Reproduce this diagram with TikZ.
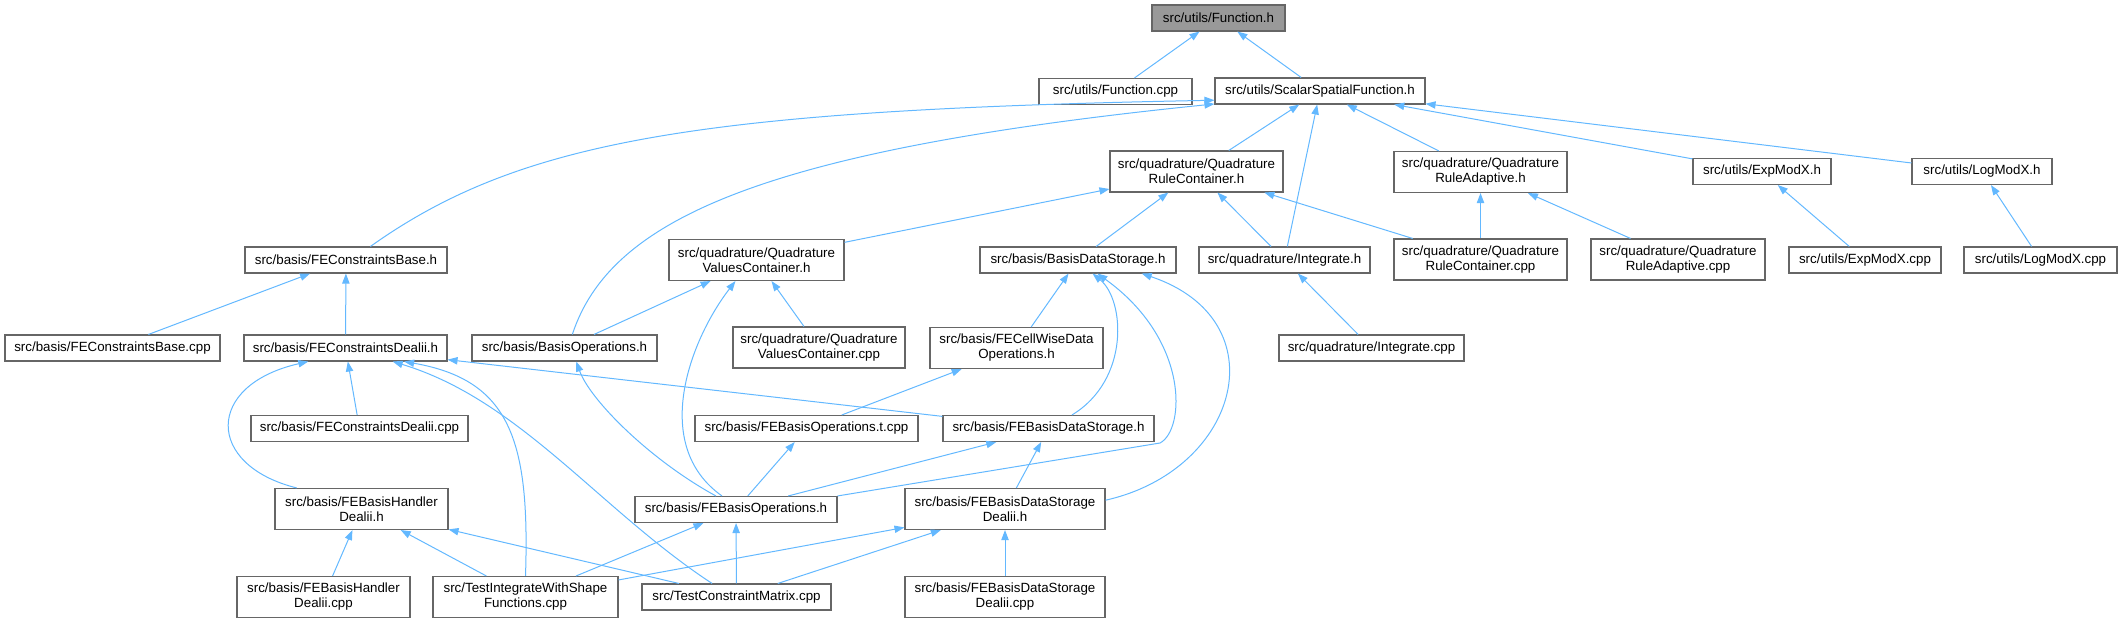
\documentclass[tikz,border=0pt]{standalone}
\usepackage{fontspec}
\setmainfont{Liberation Sans}
\usepackage{tikz}
\usetikzlibrary{arrows.meta}

\definecolor{edgeblue}{HTML}{63B8FF}
\definecolor{boxgray}{HTML}{666666}
\definecolor{rootgray}{HTML}{999999}

\tikzset{
    file/.style={draw=boxgray, line width=0.8pt, fill=white, inner sep=0pt,
        minimum height=19.5pt, align=center, font=\fontsize{10}{11.25}\selectfont},
    twoline/.style={minimum height=30.75pt},
    wd/.style={minimum width=#1*0.75pt},
    dep/.style={draw=edgeblue, line width=0.75pt, {Triangle[length=7.5pt,width=5.5pt]}-},
}

\begin{document}
\begin{tikzpicture}[x=0.75pt,y=-0.75pt]

\useasboundingbox (0,0) rectangle (2122,623);

% -------------------------
% Ficheiros
% -------------------------
\node[file, wd=133, fill=rootgray] (fh) at (1218.5,18) {src/utils/Function.h};
\node[file, wd=153] (fcpp) at (1115.5,91.5) {src/utils/Function.cpp};
\node[file, wd=210] (ssf) at (1320,91) {src/utils/ScalarSpatialFunction.h};

\node[file, wd=173, twoline] (qrch) at (1196.5,171.5) {src/quadrature/Quadrature\\RuleContainer.h};
\node[file, wd=173, twoline] (qrah) at (1480.5,172) {src/quadrature/Quadrature\\RuleAdaptive.h};
\node[file, wd=138] (expmh) at (1762,171.5) {src/utils/ExpModX.h};
\node[file, wd=140] (logmh) at (1982,171.5) {src/utils/LogModX.h};

\node[file, wd=202] (fecbh) at (346,260) {src/basis/FEConstraintsBase.h};
\node[file, wd=175, twoline] (qvch) at (756.5,260) {src/quadrature/Quadrature\\ValuesContainer.h};
\node[file, wd=196] (bdsh) at (1078,260) {src/basis/BasisDataStorage.h};
\node[file, wd=171] (inth) at (1284.5,260) {src/quadrature/Integrate.h};
\node[file, wd=173, twoline] (qrccpp) at (1480.5,259.5) {src/quadrature/Quadrature\\RuleContainer.cpp};
\node[file, wd=174, twoline] (qracpp) at (1678,259.5) {src/quadrature/Quadrature\\RuleAdaptive.cpp};
\node[file, wd=152] (expmcpp) at (1865,260) {src/utils/ExpModX.cpp};
\node[file, wd=153] (logmcpp) at (2040.5,260) {src/utils/LogModX.cpp};

\node[file, wd=215] (fecbcpp) at (112.5,348) {src/basis/FEConstraintsBase.cpp};
\node[file, wd=203] (fecdh) at (345.5,348) {src/basis/FEConstraintsDealii.h};
\node[file, wd=185] (boh) at (564.5,348) {src/basis/BasisOperations.h};
\node[file, wd=172, twoline] (qvccpp) at (819,347.5) {src/quadrature/Quadrature\\ValuesContainer.cpp};
\node[file, wd=173, twoline] (fecwh) at (1016.5,348) {src/basis/FECellWiseData\\Operations.h};
\node[file, wd=185] (intcpp) at (1371.5,348) {src/quadrature/Integrate.cpp};

\node[file, wd=217] (fecdcpp) at (359.5,428.5) {src/basis/FEConstraintsDealii.cpp};
\node[file, wd=223] (febotcpp) at (806.5,428.5) {src/basis/FEBasisOperations.t.cpp};
\node[file, wd=211] (febdsh) at (1048.5,428.5) {src/basis/FEBasisDataStorage.h};

\node[file, wd=173, twoline] (febhdh) at (361.5,509) {src/basis/FEBasisHandler\\Dealii.h};
\node[file, wd=202] (feboh) at (736,509.5) {src/basis/FEBasisOperations.h};
\node[file, wd=200, twoline] (febdsdh) at (1005,509) {src/basis/FEBasisDataStorage\\Dealii.h};

\node[file, wd=173, twoline] (febhdcpp) at (323.5,597) {src/basis/FEBasisHandler\\Dealii.cpp};
\node[file, wd=185, twoline] (tiwsf) at (525.5,597) {src/TestIntegrateWithShape\\Functions.cpp};
\node[file, wd=189] (tcm) at (736.5,597) {src/TestConstraintMatrix.cpp};
\node[file, wd=200, twoline] (febdsdcpp) at (1005,597) {src/basis/FEBasisDataStorage\\Dealii.cpp};

% -------------------------
% Dependencias (seta no incluido)
% -------------------------
\draw[dep] (fh) -- (fcpp);
\draw[dep] (fh) -- (ssf);

\draw[dep] (ssf.185) .. controls (700,110) and (520,140) .. (fecbh.29.5);
\draw[dep] (ssf.187.6) .. controls (760,150) and (610,220) .. (boh.60);
\draw[dep] (ssf) -- (qrch);
\draw[dep] (ssf) -- (inth);
\draw[dep] (ssf) -- (qrah);
\draw[dep] (ssf) -- (expmh);
\draw[dep] (ssf) -- (logmh);

\draw[dep] (qrch) -- (qvch);
\draw[dep] (qrch) -- (bdsh);
\draw[dep] (qrch) -- (inth);
\draw[dep] (qrch) -- (qrccpp);
\draw[dep] (qrah) -- (qrccpp);
\draw[dep] (qrah) -- (qracpp);
\draw[dep] (expmh) -- (expmcpp);
\draw[dep] (logmh) -- (logmcpp);
\draw[dep] (inth) -- (intcpp);

\draw[dep] (fecbh) -- (fecbcpp);
\draw[dep] (fecbh) -- (fecdh);

\draw[dep] (qvch) -- (boh);
\draw[dep] (qvch.225.7) .. controls (690,340) and (650,445) .. (feboh.136);
\draw[dep] (qvch) -- (qvccpp);

\draw[dep] (bdsh) -- (fecwh);
\draw[dep] (bdsh.317.1) .. controls (1125,300) and (1130,380) .. (febdsh.30.2);
\draw[dep] (bdsh.325.6) .. controls (1190,340) and (1185,430) .. (1160,443) -- (feboh.north east);
\draw[dep] (bdsh.348.2) .. controls (1280,320) and (1240,470) .. (febdsdh.5.7);

\draw[dep] (fecdh) -- (fecdcpp);
\draw[dep] (fecdh.200.1) .. controls (205,385) and (205,465) .. (febhdh.162.5);
\draw[dep] (fecdh.347) .. controls (510,380) and (530,440) .. (tiwsf.north);
\draw[dep] (fecdh.344.7) .. controls (520,400) and (600,510) .. (tcm.151);
\draw[dep] (fecdh) -- (febdsh);

\draw[dep] (boh.311.5) .. controls (590,400) and (650,460) .. (feboh.146.7);
\draw[dep] (fecwh) -- (febotcpp);
\draw[dep] (febotcpp) -- (feboh);
\draw[dep] (febdsh) -- (feboh);
\draw[dep] (febdsh) -- (febdsdh);

\draw[dep] (febhdh) -- (febhdcpp);
\draw[dep] (febhdh) -- (tiwsf);
\draw[dep] (febhdh) -- (tcm);
\draw[dep] (feboh) -- (tiwsf);
\draw[dep] (feboh) -- (tcm);
\draw[dep] (febdsdh) -- (tiwsf);
\draw[dep] (febdsdh) -- (tcm);
\draw[dep] (febdsdh) -- (febdsdcpp);

\end{tikzpicture}
\end{document}
